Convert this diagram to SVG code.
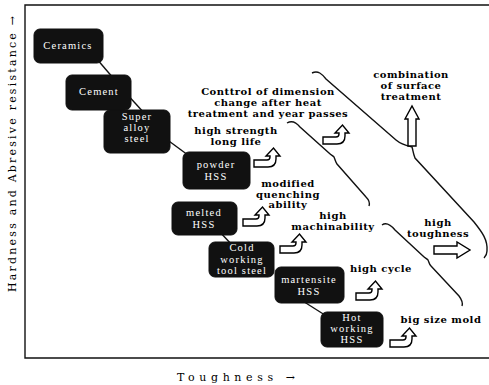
<svg xmlns="http://www.w3.org/2000/svg" width="489" height="385" viewBox="0 0 489 385">
<style>
.box{fill:#111;stroke:#111;stroke-width:1}
.bt{font-family:"Liberation Serif","DejaVu Serif",serif;font-size:10.5px;fill:#fff;text-anchor:middle;letter-spacing:1.2px}
.lb{font-family:"DejaVu Serif","Liberation Serif",serif;font-size:10px;font-weight:bold;fill:#000;text-anchor:middle;letter-spacing:0.5px}
.ax{font-family:"DejaVu Serif","Liberation Serif",serif;font-size:11px;fill:#000;text-anchor:middle}
.ln{fill:none;stroke:#111;stroke-width:1.4}
.ar{fill:#fff;stroke:#000;stroke-width:1.4;stroke-linejoin:miter}
</style>
<defs>
<path id="uarrow" class="ar" d="M0,12 L13,12 Q16,12 16,9 L16,8 L12,8 L19.5,0 L26,8 L22,8 L22,11 Q22,19 14,19 L0,19 Z"/>
</defs>
<rect width="489" height="385" fill="#fff"/>
<g id="frame">
<path class="ln" d="M489,5 L25,5 L25,358 L489,358" stroke-width="1.6"/>
</g>
<text class="ax" transform="translate(16,154) rotate(-90)" textLength="276" lengthAdjust="spacing">Hardness and Abresive resistance →</text>
<text class="ax" x="236" y="381" font-size="12" textLength="118" lengthAdjust="spacing">Toughness →</text>
<g id="connectors">
<line class="ln" x1="96" y1="58" x2="114" y2="79"/>
<line class="ln" x1="125" y1="92" x2="145" y2="114"/>
<line class="ln" x1="158" y1="133" x2="192" y2="158"/>
<line class="ln" x1="218" y1="230" x2="233" y2="246"/>
<line class="ln" x1="298" y1="298" x2="328" y2="317"/>
<path class="ln" d="M312,73 C318,70 322,74 326,79 L396,140 C402,145 408,146 412,147 C413,150 413,153 415,158 L474,222 C482,232 488,240 487,251 C487,254 486,256 484,258"/>
<path class="ln" d="M287,123 C292,120 296,122 300,127 L329,153 C331,155 333,156 334,157 C335,159 335,161 337,164 L366,197 C369,200 370,203 369,206"/>
<path class="ln" d="M382,225 C386,222 390,224 395,230 L423,256 C425,258 427,259 428,260 C429,262 429,264 431,266 L459,296 C462,300 463,303 462,306"/>
</g>
<g id="ceramics"><rect class="box" x="34" y="29" width="69" height="34" rx="6"/><text class="bt" x="68" y="49">Ceramics</text></g>
<g id="cement"><rect class="box" x="66" y="75" width="65" height="35" rx="6"/><text class="bt" x="99" y="95">Cement</text></g>
<g id="superalloy"><rect class="box" x="104" y="110" width="66" height="43" rx="6"/><text class="bt" x="137" y="120">Super</text><text class="bt" x="137" y="131">alloy</text><text class="bt" x="137" y="142">steel</text></g>
<g id="powderhss"><rect class="box" x="183" y="152" width="67" height="37" rx="6"/><text class="bt" x="216" y="168">powder</text><text class="bt" x="216" y="180">HSS</text></g>
<g id="meltedhss"><rect class="box" x="172" y="202" width="65" height="33" rx="6"/><text class="bt" x="204" y="216">melted</text><text class="bt" x="204" y="228">HSS</text></g>
<g id="coldworking"><rect class="box" x="209" y="242" width="65" height="35" rx="6"/><text class="bt" x="242" y="251">Cold</text><text class="bt" x="242" y="263">working</text><text class="bt" x="242" y="274">tool steel</text></g>
<g id="martensite"><rect class="box" x="275" y="267" width="69" height="36" rx="6"/><text class="bt" x="309" y="283">martensite</text><text class="bt" x="309" y="295">HSS</text></g>
<g id="hotworking"><rect class="box" x="321" y="312" width="62" height="35" rx="6"/><text class="bt" x="352" y="321">Hot</text><text class="bt" x="352" y="332">working</text><text class="bt" x="352" y="343">HSS</text></g>
<g id="arrows">
<use href="#uarrow" x="254" y="148"/>
<use href="#uarrow" x="243" y="207"/>
<use href="#uarrow" x="280" y="234"/>
<use href="#uarrow" x="356" y="281"/>
<use href="#uarrow" x="390" y="328"/>
<use href="#uarrow" x="323" y="125"/>
<path class="ar" d="M408,146 L408,119 L405,119 L412,106 L419,119 L416,119 L416,146 Z"/>
<path class="ar" d="M434,246 L457,246 L457,242 L470,250 L457,258 L457,254 L434,254 Z"/>
</g>
<g id="labels">
<text class="lb"><tspan x="411" y="78">combination</tspan><tspan x="411" y="89">of surface</tspan><tspan x="411" y="100">treatment</tspan></text>
<text class="lb"><tspan x="268" y="95">Conttrol of dimension</tspan><tspan x="268" y="106">change after heat</tspan><tspan x="268" y="117">treatment and year passes</tspan></text>
<text class="lb"><tspan x="236" y="134">high strength</tspan><tspan x="236" y="145">long life</tspan></text>
<text class="lb"><tspan x="288" y="187">modified</tspan><tspan x="288" y="198">quenching</tspan><tspan x="288" y="208">ability</tspan></text>
<text class="lb"><tspan x="333" y="219">high</tspan><tspan x="333" y="230">machinability</tspan></text>
<text class="lb"><tspan x="438" y="226">high</tspan><tspan x="438" y="237">toughness</tspan></text>
<text class="lb" x="381" y="272">high cycle</text>
<text class="lb" x="441" y="323">big size mold</text>
</g>
</svg>
